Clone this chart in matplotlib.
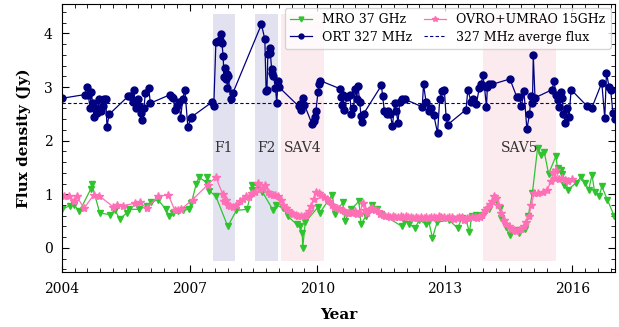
import numpy as np
import matplotlib
matplotlib.use('Agg')
import matplotlib.pyplot as plt
from matplotlib.ticker import MultipleLocator

plt.rcParams['font.family'] = 'DejaVu Serif'

# ORT 327 MHz (year, flux)
ort_t = [2004.00, 2004.54, 2004.59, 2004.62, 2004.66, 2004.69, 2004.72, 2004.75, 2004.79, 2004.82,
         2004.85, 2004.88, 2004.92, 2004.96, 2004.99, 2005.03, 2005.06, 2005.11, 2005.56, 2005.61,
         2005.66, 2005.69, 2005.72, 2005.75, 2005.78, 2005.81, 2005.85, 2005.89, 2005.93, 2005.96,
         2006.04, 2006.08, 2006.55, 2006.58, 2006.62, 2006.66, 2006.70, 2006.75, 2006.79, 2006.84,
         2006.89, 2006.96, 2007.03, 2007.06, 2007.53, 2007.57, 2007.62, 2007.67, 2007.72, 2007.75,
         2007.76, 2007.79, 2007.81, 2007.83, 2007.85, 2007.87, 2007.89, 2007.91, 2007.97, 2008.02,
         2008.69, 2008.77, 2008.80, 2008.82, 2008.84, 2008.88, 2008.90, 2008.93, 2008.95, 2008.97,
         2009.02, 2009.05, 2009.08, 2009.10, 2009.57, 2009.60, 2009.62, 2009.66, 2009.70, 2009.88,
         2009.92, 2009.95, 2009.97, 2010.02, 2010.05, 2010.07, 2010.53, 2010.56, 2010.58, 2010.61,
         2010.64, 2010.70, 2010.77, 2010.80, 2010.85, 2010.90, 2010.93, 2010.96, 2011.00, 2011.03,
         2011.06, 2011.09, 2011.51, 2011.54, 2011.58, 2011.63, 2011.67, 2011.72, 2011.77, 2011.82,
         2011.86, 2011.90, 2011.94, 2012.00, 2012.07, 2012.47, 2012.50, 2012.56, 2012.62, 2012.68,
         2012.74, 2012.83, 2012.88, 2012.94, 2012.99, 2013.03, 2013.07, 2013.50, 2013.54, 2013.62,
         2013.66, 2013.74, 2013.81, 2013.86, 2013.89, 2013.93, 2013.98, 2014.00, 2014.03, 2014.11,
         2014.53, 2014.69, 2014.75, 2014.80, 2014.86, 2014.93, 2014.99, 2015.03, 2015.06, 2015.08,
         2015.12, 2015.52, 2015.57, 2015.61, 2015.65, 2015.69, 2015.73, 2015.76, 2015.79, 2015.83,
         2015.88, 2015.92, 2015.97, 2016.35, 2016.45, 2016.69, 2016.76, 2016.80, 2016.86, 2016.90,
         2016.95, 2016.99]
ort_f = [2.79, 2.86, 3.00, 2.86, 2.61, 2.90, 2.71, 2.45, 2.61, 2.52,
         2.58, 2.77, 2.55, 2.64, 2.77, 2.77, 2.26, 2.49, 2.83, 2.84,
         2.73, 2.95, 2.73, 2.61, 2.77, 2.65, 2.52, 2.39, 2.61, 2.88,
         2.98, 2.70, 2.86, 2.82, 2.79, 2.58, 2.64, 2.72, 2.42, 2.77,
         2.95, 2.26, 2.42, 2.45, 2.72, 2.65, 3.84, 3.85, 3.88, 3.98,
         3.83, 3.58, 3.19, 3.36, 3.15, 3.25, 2.98, 3.21, 2.77, 2.89,
         4.17, 3.89, 2.92, 2.94, 3.61, 3.73, 3.63, 3.33, 3.27, 3.21,
         2.98, 2.70, 3.11, 3.00, 2.64, 2.69, 2.58, 2.80, 2.67, 2.31,
         2.37, 2.45, 2.55, 2.91, 3.05, 3.12, 2.97, 2.81, 2.67, 2.85,
         2.58, 2.82, 2.86, 2.50, 2.60, 2.97, 2.78, 3.02, 2.72, 2.46,
         2.35, 2.50, 3.03, 2.83, 2.55, 2.50, 2.55, 2.49, 2.27, 2.70,
         2.55, 2.33, 2.73, 2.78, 2.77, 2.63, 3.05, 2.72, 2.55, 2.60,
         2.48, 2.14, 2.77, 2.92, 2.95, 2.45, 2.30, 2.58, 2.94, 2.73,
         2.77, 2.68, 2.98, 3.06, 3.23, 3.02, 2.63, 3.00, 3.06, 3.05,
         3.15, 2.82, 2.82, 2.64, 2.92, 2.21, 2.49, 2.83, 2.70, 3.59,
         2.80, 2.95, 3.11, 2.86, 2.76, 2.62, 2.90, 2.80, 2.50, 2.33,
         2.60, 2.45, 2.95, 2.64, 2.60, 3.08, 2.42, 3.27, 3.00, 2.95,
         2.52, 2.40]

# MRO 37 GHz
mro_t = [2004.00, 2004.19, 2004.29, 2004.41, 2004.68, 2004.70, 2004.89, 2005.14, 2005.24, 2005.36,
         2005.52, 2005.58, 2005.81, 2006.00, 2006.10, 2006.26, 2006.44, 2006.52, 2006.62, 2006.72,
         2006.85, 2006.98, 2007.04, 2007.16, 2007.22, 2007.40, 2007.42, 2007.46, 2007.62, 2007.90,
         2008.10, 2008.35, 2008.46, 2008.48, 2008.62, 2008.71, 2008.96, 2009.04, 2009.20, 2009.31,
         2009.52, 2009.60, 2009.65, 2009.66, 2009.72, 2010.03, 2010.06, 2010.35, 2010.43, 2010.60,
         2010.65, 2010.80, 2010.98, 2011.03, 2011.15, 2011.30, 2011.40, 2011.50, 2012.00, 2012.05,
         2012.15, 2012.30, 2012.40, 2012.55, 2012.62, 2012.71, 2012.82, 2013.10, 2013.30, 2013.40,
         2013.50, 2013.58, 2013.63, 2013.73, 2013.90, 2014.04, 2014.20, 2014.30, 2014.33, 2014.43,
         2014.53, 2014.65, 2014.74, 2014.88, 2014.96, 2015.06, 2015.18, 2015.26, 2015.34, 2015.44,
         2015.61, 2015.65, 2015.72, 2015.76, 2015.81, 2015.85, 2015.89, 2016.08, 2016.20, 2016.30,
         2016.38, 2016.46, 2016.52, 2016.63, 2016.69, 2016.82, 2016.98]
mro_f = [0.72, 0.79, 0.80, 0.68, 1.10, 1.20, 0.65, 0.62, 0.71, 0.54,
         0.65, 0.72, 0.72, 0.78, 0.85, 0.90, 0.72, 0.60, 0.65, 0.68,
         0.70, 0.72, 0.83, 1.20, 1.32, 1.22, 1.32, 1.07, 0.96, 0.40,
         0.70, 0.72, 1.08, 1.18, 1.16, 1.05, 0.71, 0.80, 0.74, 0.59,
         0.44, 0.40, 0.27, -0.01, 0.48, 0.77, 0.65, 0.99, 0.64, 0.85,
         0.51, 0.72, 0.87, 0.44, 0.60, 0.80, 0.72, 0.64, 0.40, 0.50,
         0.45, 0.37, 0.52, 0.45, 0.50, 0.19, 0.48, 0.52, 0.37, 0.55,
         0.52, 0.29, 0.60, 0.62, 0.62, 0.72, 0.90, 0.74, 0.55, 0.39,
         0.24, 0.34, 0.28, 0.35, 0.59, 1.03, 1.86, 1.74, 1.78, 1.38,
         1.71, 1.49, 1.45, 1.38, 1.18, 1.25, 1.08, 1.21, 1.32, 1.22,
         1.08, 1.36, 1.05, 0.96, 1.15, 0.90, 0.60]

# OVRO+UMRAO 15 GHz
ovro_t = [2004.05, 2004.17, 2004.29, 2004.35, 2004.52, 2004.75, 2004.88, 2005.20, 2005.30, 2005.44,
          2005.71, 2005.84, 2005.99, 2006.26, 2006.50, 2006.65, 2006.73, 2006.80, 2007.07, 2007.43,
          2007.62, 2007.78, 2007.80, 2007.85, 2007.90, 2007.95, 2008.02, 2008.10, 2008.18, 2008.25,
          2008.32, 2008.40, 2008.48, 2008.55, 2008.61, 2008.66, 2008.72, 2008.78, 2008.84, 2008.90,
          2008.96, 2009.02, 2009.08, 2009.14, 2009.20, 2009.26, 2009.32, 2009.38, 2009.44, 2009.50,
          2009.56, 2009.62, 2009.68, 2009.74, 2009.80, 2009.86, 2009.92, 2009.98, 2010.04, 2010.10,
          2010.16, 2010.22, 2010.28, 2010.34, 2010.40, 2010.46, 2010.52, 2010.58, 2010.64, 2010.70,
          2010.76, 2010.82, 2010.88, 2010.94, 2011.00, 2011.07, 2011.12, 2011.18, 2011.24, 2011.30,
          2011.36, 2011.42, 2011.48, 2011.54, 2011.60, 2011.66, 2011.72, 2011.78, 2011.84, 2011.90,
          2011.96, 2012.02, 2012.08, 2012.14, 2012.20, 2012.26, 2012.32, 2012.38, 2012.44, 2012.50,
          2012.56, 2012.62, 2012.68, 2012.74, 2012.80, 2012.86, 2012.92, 2012.98, 2013.04, 2013.10,
          2013.16, 2013.22, 2013.28, 2013.34, 2013.40, 2013.46, 2013.52, 2013.58, 2013.64, 2013.70,
          2013.76, 2013.82, 2013.88, 2013.94, 2014.00, 2014.06, 2014.12, 2014.16, 2014.20, 2014.26,
          2014.32, 2014.38, 2014.44, 2014.50, 2014.56, 2014.62, 2014.68, 2014.74, 2014.80, 2014.86,
          2014.92, 2014.98, 2015.03, 2015.10, 2015.18, 2015.30, 2015.40, 2015.50, 2015.55, 2015.58,
          2015.62, 2015.68, 2015.75, 2015.82, 2015.90, 2016.00]
ovro_f = [0.97, 0.97, 0.87, 0.96, 0.74, 0.99, 0.97, 0.77, 0.80, 0.79,
          0.83, 0.85, 0.74, 0.96, 0.99, 0.71, 0.71, 0.72, 0.90, 1.18,
          1.32, 1.00, 0.87, 0.90, 0.80, 0.78, 0.77, 0.80, 0.88, 0.92,
          0.96, 0.95, 1.02, 1.05, 1.21, 1.10, 1.12, 1.17, 1.05, 1.00,
          0.98, 0.99, 0.96, 0.90, 0.80, 0.74, 0.70, 0.66, 0.63, 0.61,
          0.60, 0.59, 0.60, 0.62, 0.68, 0.78, 0.92, 1.04, 1.02, 0.98,
          0.95, 0.92, 0.88, 0.80, 0.77, 0.74, 0.72, 0.70, 0.68, 0.66,
          0.67, 0.65, 0.68, 0.64, 0.66, 0.83, 0.70, 0.66, 0.72, 0.74,
          0.70, 0.68, 0.64, 0.61, 0.59, 0.60, 0.58, 0.59, 0.57, 0.58,
          0.60, 0.57, 0.59, 0.57, 0.58, 0.56, 0.57, 0.55, 0.58, 0.56,
          0.57, 0.55, 0.57, 0.58, 0.56, 0.59, 0.57, 0.58, 0.56, 0.58,
          0.57, 0.54, 0.56, 0.58, 0.57, 0.53, 0.55, 0.56, 0.58, 0.57,
          0.56, 0.58, 0.62, 0.70, 0.75, 0.82, 0.88, 0.97, 0.94, 0.80,
          0.65, 0.52, 0.45, 0.40, 0.36, 0.34, 0.32, 0.33, 0.36, 0.41,
          0.49, 0.60, 0.80, 1.02, 1.03, 1.05, 1.08, 1.24, 1.41, 1.30,
          1.46, 1.28, 1.30, 1.27, 1.25, 1.28]

ort_mean = 2.7

# shaded flare / SAV intervals
flares = [(2007.54, 2008.06, 'F1'), (2008.53, 2009.09, 'F2')]
savs = [(2009.14, 2010.17, 'SAV4'), (2013.90, 2015.62, 'SAV5')]

fig, ax = plt.subplots(figsize=(6.19, 3.27), dpi=100)
fig.subplots_adjust(left=0.100, right=0.9935, bottom=0.168, top=0.988)

for x0, x1, lab in flares:
    ax.fill_between([x0, x1], -0.25, 4.37, color='#3c3c96', alpha=0.15, lw=0)
    ax.text((x0 + x1) / 2, 1.87, lab, ha='center', va='center', fontsize=10, color='#333333')
for x0, x1, lab in savs:
    ax.fill_between([x0, x1], -0.25, 4.37, color='#f7b3bd', alpha=0.25, lw=0)
    ax.text((x0 + x1) / 2, 1.87, lab, ha='center', va='center', fontsize=10, color='#333333')

l1, = ax.plot(mro_t, mro_f, '-v', color='#2fc42f', lw=0.9, ms=5, label='MRO 37 GHz')
l3, = ax.plot(ovro_t, ovro_f, '-*', color='#ff6fb5', lw=0.9, ms=6, label='OVRO+UMRAO 15GHz')
l2, = ax.plot(ort_t, ort_f, '-o', color='#000080', lw=0.9, ms=5, mfc='#000080', mec='#000080',
              label='ORT 327 MHz')
l4 = ax.axhline(ort_mean, color='#000080', ls='--', lw=0.8, dashes=(3, 2), label='327 MHz averge flux')

ax.set_xlim(2004, 2017)
ax.set_ylim(-0.45, 4.55)
ax.xaxis.set_major_locator(MultipleLocator(3))
ax.xaxis.set_minor_locator(MultipleLocator(0.3))
ax.yaxis.set_major_locator(MultipleLocator(1))
ax.yaxis.set_minor_locator(MultipleLocator(0.2))
ax.tick_params(which='both', direction='in', top=True, right=True, labelsize=10)
ax.tick_params(which='major', length=5)
ax.tick_params(which='minor', length=3)
ax.tick_params(axis='x', pad=7)
ax.tick_params(axis='y', pad=6.5)

ax.set_xlabel('Year', fontsize=11, fontweight='bold', labelpad=9)
ax.set_ylabel('Flux density (Jy)', fontsize=11, fontweight='bold', labelpad=9)

ax.legend(handles=[l1, l2, l3, l4], loc='upper right', ncol=2, fontsize=9,
          frameon=True, borderaxespad=0.35, columnspacing=0.9, handlelength=1.8,
          labelspacing=0.35, markerscale=0.7)

fig.savefig('out.png', dpi=100)
